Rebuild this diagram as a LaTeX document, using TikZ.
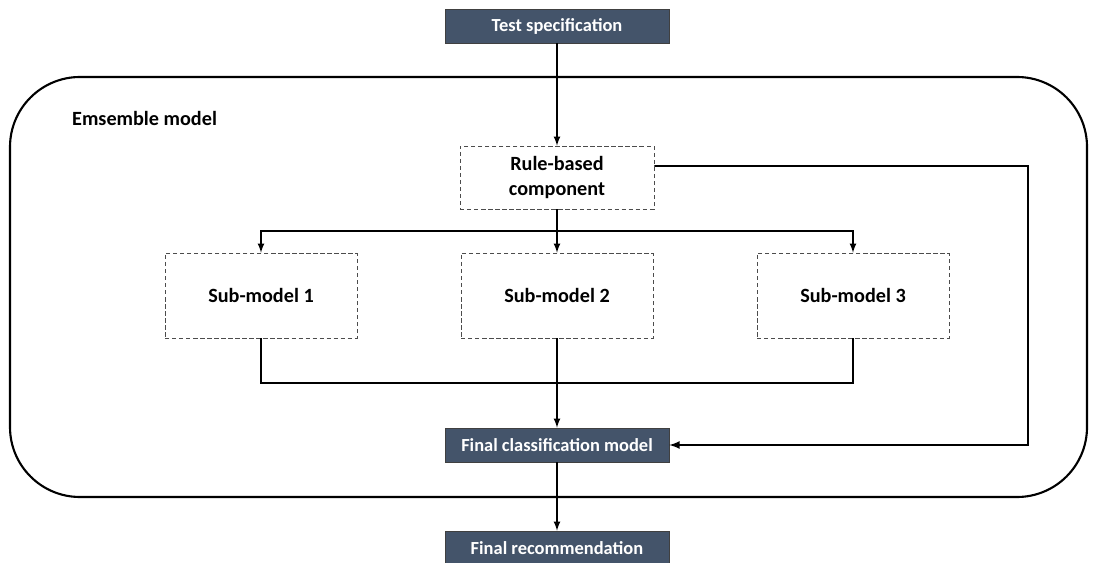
\documentclass[tikz,border=0pt]{standalone}
\usepackage{fontspec}
\setmainfont{Carlito}
\usetikzlibrary{calc}

\definecolor{slate}{HTML}{44546A}
\tikzset{
  darkbox/.style={draw=black!75, fill=slate, text=white, font=\bfseries\fontsize{10.5}{12}\selectfont,
    minimum width=4.48cm, minimum height=0.68cm, inner sep=0pt},
  subbox/.style={draw=black!70, dash pattern=on 2.5pt off 1.5pt, font=\bfseries\fontsize{11.5}{14}\selectfont,
    minimum width=3.84cm, minimum height=1.7cm, align=center, inner sep=0pt},
  flow/.style={thick, ->, >=latex}
}

\begin{document}
\begin{tikzpicture}[x=0.02cm, y=-0.02cm]
      \useasboundingbox (0,0) rectangle (1097,563);
      % ensemble frame
      \draw[line width=1.2pt, rounded corners=1.4cm] (10,77) rectangle (1087,497);
      \node[anchor=west, font=\bfseries\fontsize{11.5}{14}\selectfont] (title) at (66,118) {Emsemble model};

      \node[darkbox] (spec) at (557,26) {Test specification};
      \node[subbox, minimum width=3.88cm, minimum height=1.26cm] (rule) at (557,177.5) {Rule-based\\component};
      \node[subbox] (sub1) at (261,295.5) {Sub-model 1};
      \node[subbox] (sub2) at (557,295.5) {Sub-model 2};
      \node[subbox] (sub3) at (853,295.5) {Sub-model 3};
      \node[darkbox] (fcm) at (557,445) {Final classification model};
      \node[darkbox] (rec) at (557,548) {Final recommendation};

      \coordinate (split) at (557,231);
      \coordinate (merge) at (557,383);
      \coordinate (loop) at (1028,166);

      \draw[flow] (spec) -- (rule);
      \draw[flow] (rule) -- (sub2);
      \draw[flow] (split) -| (sub1);
      \draw[flow] (split) -| (sub3);
      \draw[thick] (sub1) |- (merge);
      \draw[thick] (sub3) |- (merge);
      \draw[flow] (sub2) -- (fcm);
      \draw[flow, line width=1pt] ([yshift=0.23cm]rule.east) -- (loop) |- (fcm.east);
      \draw[flow] (fcm) -- (rec);
    \end{tikzpicture}
\end{document}
